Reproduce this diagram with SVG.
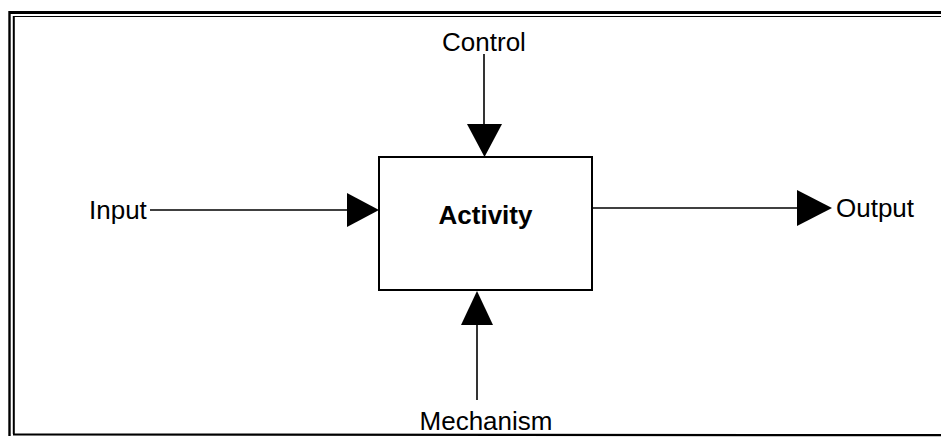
<svg xmlns="http://www.w3.org/2000/svg" width="941" height="437" viewBox="0 0 941 437">
<style>
.lbl{font-family:"Liberation Sans",Arial,Helvetica,sans-serif;font-size:26px;fill:#000}
.title{font-family:"Liberation Sans",Arial,Helvetica,sans-serif;font-size:26px;font-weight:bold;fill:#000}
.conn line{stroke:#000;stroke-width:1.6}
.head{fill:#000}
.frame{stroke:#000;fill:none}
</style>
<rect width="941" height="437" fill="#fff"/>
<g id="frame">
<line class="frame" x1="9" y1="12.5" x2="941" y2="12.5" stroke-width="3.2"/>
<line class="frame" x1="13.5" y1="16.5" x2="941" y2="16.5" stroke-width="1.2" stroke="#555"/>
<line class="frame" x1="9.5" y1="11" x2="9.5" y2="436" stroke-width="2.4"/>
<line class="frame" x1="13.8" y1="16" x2="13.8" y2="434" stroke-width="2"/>
<line class="frame" x1="13" y1="434.5" x2="941" y2="435.2" stroke-width="2.2"/>
</g>
<g id="activity">
<rect x="379" y="157" width="213" height="133" fill="#fff" stroke="#000" stroke-width="2"/>
<text class="title" x="485.5" y="224" text-anchor="middle">Activity</text>
</g>
<g id="control"><text class="lbl" x="484" y="51" text-anchor="middle">Control</text></g>
<g id="input"><text class="lbl" x="89" y="219">Input</text></g>
<g id="output"><text class="lbl" x="836" y="217">Output</text></g>
<g id="mechanism"><text class="lbl" x="486" y="430" text-anchor="middle">Mechanism</text></g>
<g id="connectors" class="conn">
<line x1="484" y1="54" x2="484" y2="126"/>
<polygon class="head" points="467,124 502,124 484.5,157"/>
<line x1="150" y1="210" x2="349" y2="210"/>
<polygon class="head" points="347,193 347,227 379,210"/>
<line x1="592" y1="208" x2="799" y2="208"/>
<polygon class="head" points="797,190 797,226 832,208"/>
<line x1="477" y1="400" x2="477" y2="323"/>
<polygon class="head" points="461,325 493,325 477,291"/>
</g>
</svg>
